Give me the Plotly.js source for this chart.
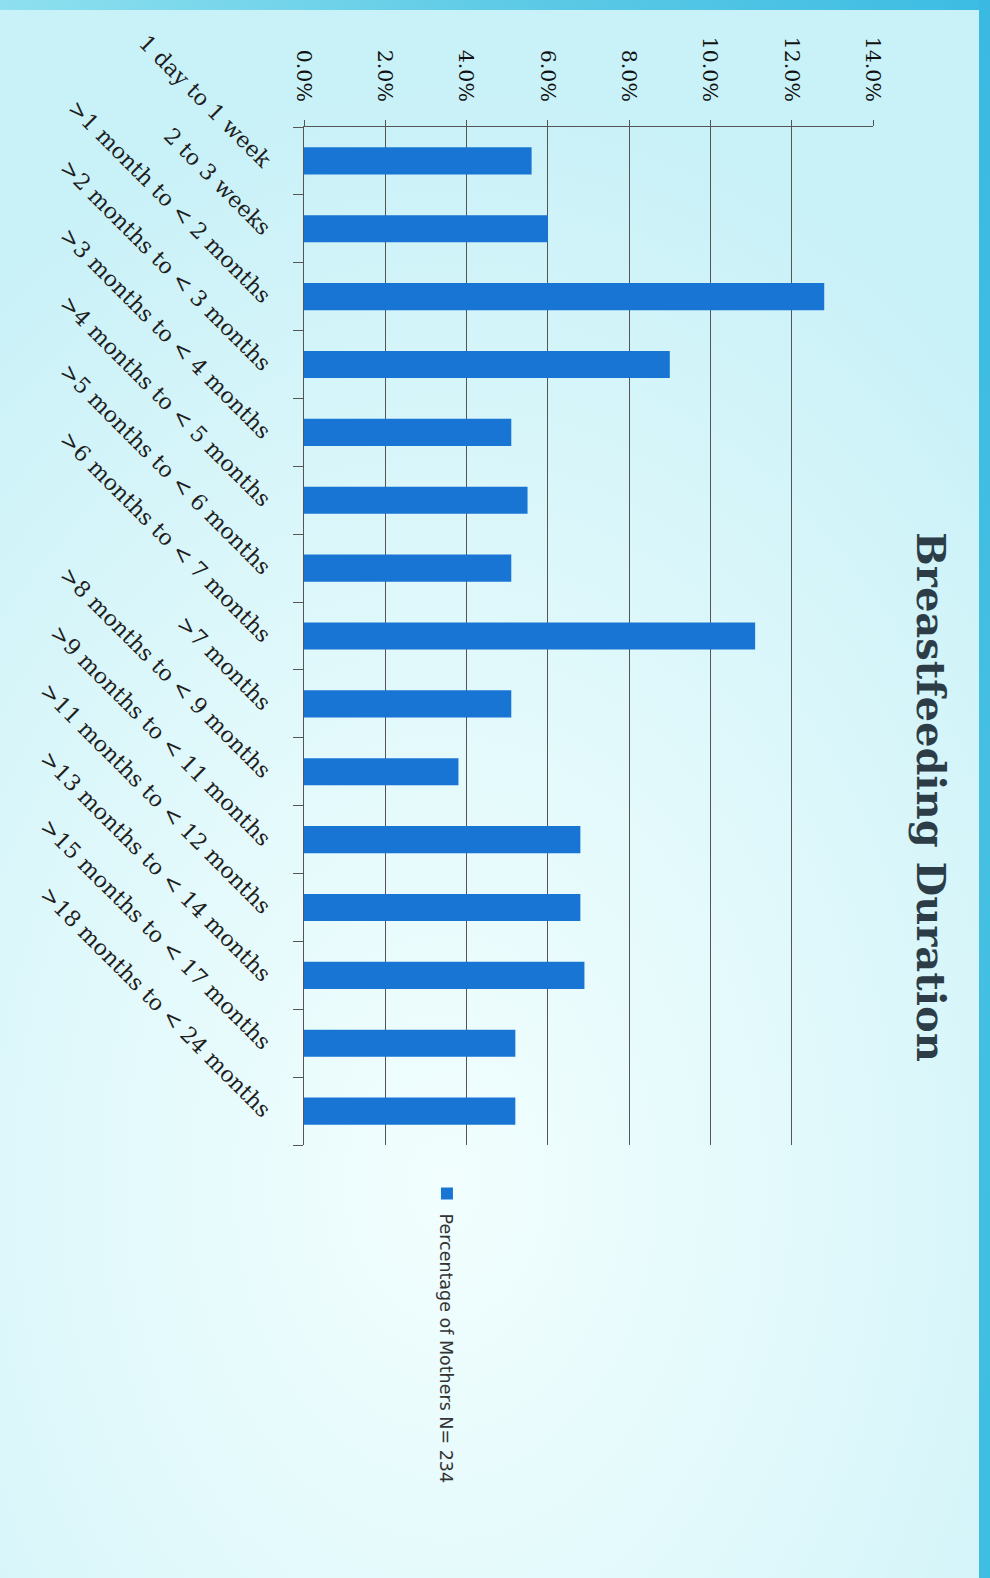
<!DOCTYPE html>
<html>
<head>
<meta charset="utf-8">
<script src="https://cdn.plot.ly/plotly-3.0.1.min.js"></script>
<style>
  html, body { margin: 0; padding: 0; width: 990px; height: 1578px; overflow: hidden; }
  #bg {
    position: absolute; left: 0; top: 0; width: 990px; height: 1578px;
    background:
      radial-gradient(ellipse 80% 70% at 45% 75%, #f2fefe 0%, #e2f9fb 45%, #c9f1f8 100%);
  }
  #topstrip {
    position: absolute; left: 0; top: 0; width: 990px; height: 10px;
    background: linear-gradient(to right, #8ee0ef 0%, #5fcbe6 50%, #3cbce3 100%);
  }
  #rightstrip {
    position: absolute; left: 979px; top: 0; width: 11px; height: 1578px;
    background: linear-gradient(to bottom, #3ab9e2 0%, #45c0e3 50%, #3fbde2 100%);
  }
  #wrap {
    position: absolute; left: 0; top: 0; width: 1578px; height: 990px;
    transform-origin: 0 0;
    transform: translate(990px, 0) rotate(90deg);
  }
  #chart { width: 1578px; height: 990px; }
</style>
</head>
<body>
<div id="bg"></div>
<div id="topstrip"></div>
<div id="rightstrip"></div>
<div id="wrap"><div id="chart"></div></div>
<script>
const categories = [
  "1 day to 1 week",
  "2 to 3 weeks",
  ">1 month to < 2 months",
  ">2 months to < 3 months",
  ">3 months to < 4 months",
  ">4 months to < 5 months",
  ">5 months to < 6 months",
  ">6 months to < 7 months",
  ">7 months",
  ">8 months to < 9 months",
  ">9 months to < 11 months",
  ">11 months to < 12 months",
  ">13 months to < 14 months",
  ">15 months to < 17 months",
  ">18 months to < 24 months"
];
const percentages = [5.6, 6.0, 12.8, 9.0, 5.1, 5.5, 5.1, 11.1, 5.1, 3.8, 6.8, 6.8, 6.9, 5.2, 5.2];
const seriesName = "Percentage of Mothers N= 234";
const valueTicks = [0, 2, 4, 6, 8, 10, 12, 14];
const valueTickLabels = ["0.0%", "2.0%", "4.0%", "6.0%", "8.0%", "10.0%", "12.0%", "14.0%"];
const chartTitle = "Breastfeeding Duration";

const trace = {
  type: "bar",
  x: categories,
  y: percentages,
  name: seriesName,
  marker: { color: "#1875d4", line: { width: 0 } },
  hoverinfo: "skip",
  showlegend: true
};

const layout = {
  width: 1578,
  height: 990,
  margin: { l: 127, r: 433, t: 117, b: 304, pad: 0 },
  paper_bgcolor: "rgba(0,0,0,0)",
  plot_bgcolor: "rgba(0,0,0,0)",
  bargap: 0.6,
  title: {
    text: chartTitle,
    xref: "container", x: 0.505, xanchor: "center",
    yref: "container", y: 0.94, yanchor: "middle",
    font: { family: "DejaVu Serif", size: 40, color: "#2c3d47", weight: 700 }
  },
  xaxis: {
    type: "category",
    automargin: false,
    tickangle: -45,
    tickson: "boundaries",
    ticks: "outside",
    ticklen: 10,
    tickcolor: "#555",
    tickwidth: 1,
    showline: true,
    linecolor: "#555",
    linewidth: 1,
    showgrid: false,
    ticklabelstandoff: 18,
    tickfont: { family: "DejaVu Serif", size: 22, color: "#1e1e1e" }
  },
  yaxis: {
    automargin: false,
    range: [0, 14],
    tickmode: "array",
    tickvals: valueTicks,
    ticktext: valueTickLabels,
    ticks: "outside",
    ticklen: 6,
    tickcolor: "#555",
    showline: true,
    linecolor: "#555",
    linewidth: 1,
    showgrid: true,
    gridcolor: "#555555",
    gridwidth: 1,
    zeroline: false,
    ticklabelstandoff: 14,
    tickfont: { family: "DejaVu Serif", size: 20.5, color: "#111" }
  },
  showlegend: true,
  legend: {
    x: 1.028, xanchor: "left",
    y: 0.251, yanchor: "middle",
    bgcolor: "rgba(0,0,0,0)",
    borderwidth: 0,
    font: { family: "DejaVu Sans", size: 17.5, color: "#333" }
  }
};

Plotly.newPlot("chart", [trace], layout, { displayModeBar: false, staticPlot: true });
</script>
</body>
</html>
